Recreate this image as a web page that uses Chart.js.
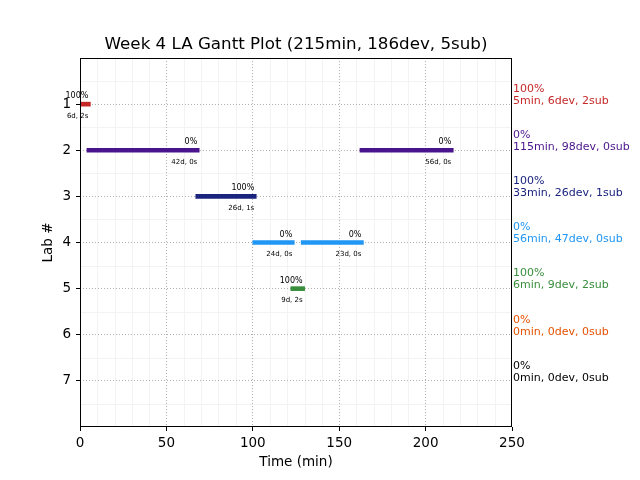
<!DOCTYPE html>
<html>
<head>
<meta charset="utf-8">
<script src="https://cdn.jsdelivr.net/npm/chart.js@4/dist/chart.umd.min.js"></script>
<style>
html,body{margin:0;padding:0;background:#fff;}
#wrap{width:640px;height:480px;}
</style>
</head>
<body>
<div id="wrap"><canvas id="c" width="640" height="480"></canvas></div>
<script>
// ---- data ----
const titleText = 'Week 4 LA Gantt Plot (215min, 186dev, 5sub)';
const labs = [1, 2, 3, 4, 5, 6, 7];
const labColors = ['#c62828', '#4a148c', '#1a237e', '#2196f3', '#388e3c', '#e65100', '#000000'];
const labPct = ['100%', '0%', '100%', '0%', '100%', '0%', '0%'];
const labSummary = ['5min, 6dev, 2sub', '115min, 98dev, 0sub', '33min, 26dev, 1sub',
  '56min, 47dev, 0sub', '6min, 9dev, 2sub', '0min, 0dev, 0sub', '0min, 0dev, 0sub'];

const taskLab = [1, 2, 2, 3, 4, 4, 5];
const taskStart = [0, 4, 162, 67, 100, 128, 122];
const taskEnd = [6, 69, 216, 102, 124, 164, 130];
const taskPct = ['100%', '0%', '0%', '100%', '0%', '0%', '100%'];
const taskDetail = ['6d, 2s', '42d, 0s', '56d, 0s', '26d, 1s', '24d, 0s', '23d, 0s', '9d, 2s'];

const xTicks = [0, 50, 100, 150, 200, 250];

const FONT = 'DejaVu Sans';

const barData = taskLab.map((l, i) => ({ x: [taskStart[i], taskEnd[i]], y: l }));
const barColors = taskLab.map(l => labColors[l - 1]);

const minorGrid = {
  id: 'minorGrid',
  beforeDraw(chart) {
    const { ctx, chartArea: a, scales: { x, y } } = chart;
    ctx.save();
    ctx.strokeStyle = '#f3f3f3';
    ctx.lineWidth = 1;
    for (let v = 10; v < 250; v += 10) {
      if (v % 50 === 0) continue;
      const px = Math.round(x.getPixelForValue(v)) + 0.5;
      ctx.beginPath(); ctx.moveTo(px, a.top); ctx.lineTo(px, a.bottom); ctx.stroke();
    }
    for (let v = 0.5; v < 8; v += 1) {
      const py = Math.round(y.getPixelForValue(v)) + 0.5;
      ctx.beginPath(); ctx.moveTo(a.left, py); ctx.lineTo(a.right, py); ctx.stroke();
    }
    ctx.restore();
  }
};

const annotations = {
  id: 'annotations',
  afterDraw(chart) {
    const { ctx, chartArea: a, scales: { x, y } } = chart;
    ctx.save();
    // frame
    ctx.strokeStyle = '#000';
    ctx.lineWidth = 1;
    ctx.strokeRect(Math.round(a.left) + 0.5, Math.round(a.top) + 0.5,
      Math.round(a.right - a.left) - 1, Math.round(a.bottom - a.top) - 1);
    // bar labels
    ctx.fillStyle = '#000';
    ctx.textAlign = 'right';
    ctx.textBaseline = 'middle';
    taskLab.forEach((l, i) => {
      const ex = x.getPixelForValue(taskEnd[i]) - 2;
      const py = y.getPixelForValue(l);
      ctx.font = '8px "' + FONT + '"';
      ctx.fillText(taskPct[i], ex, py - 8);
      ctx.font = '7px "' + FONT + '"';
      ctx.fillText(taskDetail[i], ex, py + 12);
    });
    // right side summaries
    ctx.textAlign = 'left';
    ctx.font = '11px "' + FONT + '"';
    labs.forEach((l, i) => {
      const py = y.getPixelForValue(l);
      ctx.fillStyle = labColors[i];
      ctx.fillText(labPct[i], a.right + 1, py - 15);
      ctx.fillText(labSummary[i], a.right + 1, py - 3);
    });
    ctx.restore();
  }
};

new Chart(document.getElementById('c'), {
  type: 'bar',
  data: {
    datasets: [{
      data: barData,
      backgroundColor: barColors,
      borderWidth: 0,
      barThickness: 4,
      grouped: false
    }]
  },
  options: {
    indexAxis: 'y',
    responsive: false,
    animation: false,
    devicePixelRatio: 1,
    layout: { padding: { left: 0, right: 128, top: 0, bottom: 0 } },
    plugins: {
      legend: { display: false },
      tooltip: { enabled: false },
      title: {
        display: true,
        fullSize: false,
        text: titleText,
        color: '#000',
        font: { family: FONT, size: 16.7, weight: 'normal' },
        padding: { top: 35, bottom: 3 }
      }
    },
    scales: {
      x: {
        type: 'linear',
        min: 0, max: 250,
        offset: false,
        afterBuildTicks(s) { s.ticks = xTicks.map(v => ({ value: v })); },
        afterFit(s) { s.height = 53; },
        ticks: {
          color: '#000', padding: 4, maxRotation: 0,
          font: { family: FONT, size: 13.5 }
        },
        grid: {
          offset: false,
          color: c => (c.tick && (c.tick.value === 0 || c.tick.value === 250)) ? 'rgba(0,0,0,0)' : '#b0b0b0',
          tickColor: '#000',
          tickBorderDash: [],
          tickLength: 4,
          drawOnChartArea: true
        },
        border: { display: false, dash: [1, 2] },
        title: {
          display: true, text: 'Time (min)', color: '#000',
          font: { family: FONT, size: 13.5 },
          padding: { top: 0, bottom: 9 }
        }
      },
      y: {
        type: 'linear',
        min: 0, max: 8,
        reverse: true,
        offset: false,
        afterBuildTicks(s) { s.ticks = [0].concat(labs, [8]).map(v => ({ value: v })); },
        afterFit(s) { s.width = 80; },
        ticks: {
          color: '#000', padding: 5,
          font: { family: FONT, size: 13.5 },
          callback: v => (v >= 1 && v <= 7) ? String(v) : ''
        },
        grid: {
          offset: false,
          color: c => (c.tick && (c.tick.value === 0 || c.tick.value === 8)) ? 'rgba(0,0,0,0)' : '#b0b0b0',
          tickColor: c => (c.tick && (c.tick.value === 0 || c.tick.value === 8)) ? 'rgba(0,0,0,0)' : '#000',
          tickBorderDash: [],
          tickLength: 4
        },
        border: { display: false, dash: [1, 2] },
        title: {
          display: true, text: 'Lab #', color: '#000',
          font: { family: FONT, size: 13.5 },
          padding: { top: 40, bottom: 0 }
        }
      }
    }
  },
  plugins: [minorGrid, annotations]
});
</script>
</body>
</html>
